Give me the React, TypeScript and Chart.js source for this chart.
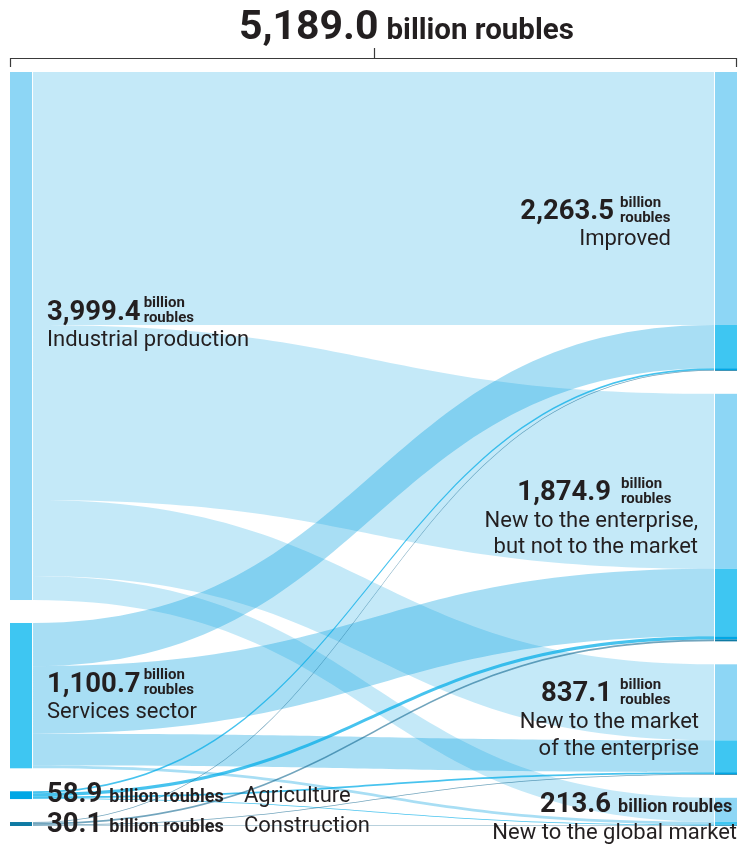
import React, { useEffect, useRef } from "react";
import { Chart, registerables } from "chart.js";

Chart.register(...registerables);

// ---------- data ----------
const grandTotal = 5189.0;
const sources = ["Industrial production", "Services sector", "Agriculture", "Construction"];
const sourceTotals = [3999.4, 1100.7, 58.9, 30.1];
const targets = ["Improved", "New to the enterprise, but not to the market", "New to the market of the enterprise", "New to the global market"];
const targetTotals = [2263.5, 1874.9, 837.1, 213.6];
// flows from each source to targets (Improved, New to enterprise, New to market, New to global market)
const fromIndustrial = [1916.0, 1325.6, 576.0, 181.8];
const fromServices = [327.5, 511.3, 241.1, 20.8];
const fromAgriculture = [14.0, 24.0, 14.0, 6.9];
const fromConstruction = [6.0, 14.0, 6.0, 4.1];
const flowRows = [fromIndustrial, fromServices, fromAgriculture, fromConstruction];

// ---------- style ----------
const GAP = 174; // gap between nodes, in value units
const NODE_W = 0.0303; // node width in x-scale units
const nodeColors = ["#8dd6f5", "#3ec6f2", "#00a7e5", "#0f7aa3"];
const flowColors = [
  "rgba(0,158,224,0.23)",
  "rgba(0,158,224,0.34)",
  "rgba(0,172,232,0.72)",
  "rgba(20,105,145,0.6)",
];
const TEXT = "#231f20";
const FONT = "Roboto, 'Noto Sans', 'DejaVu Sans', sans-serif";
const f = (w: string | number, s: number) => `${w} ${s}px ${FONT}`;
const REG = 22;

const fmt = (v: number) =>
  v.toLocaleString("en-US", { minimumFractionDigits: 1, maximumFractionDigits: 1 });

const yMax = sourceTotals.reduce((a, b) => a + b, 0) + GAP * (sourceTotals.length - 1);

function drawText(ctx: CanvasRenderingContext2D, txt: string, x: number, y: number, font: string, align: CanvasTextAlign = "left") {
  ctx.font = font;
  ctx.textAlign = align;
  ctx.textBaseline = "alphabetic";
  ctx.fillStyle = TEXT;
  ctx.fillText(txt, x, y);
  return ctx.measureText(txt).width;
}

// number + stacked "billion / roubles"
function valueBlockLeft(ctx: CanvasRenderingContext2D, v: number, x: number, base: number) {
  const w = drawText(ctx, fmt(v), x, base, f(700, 27.5));
  drawText(ctx, "billion", x + w + 3, base - 13, f(700, 15));
  drawText(ctx, "roubles", x + w + 3, base + 2, f(700, 15));
}
function valueBlockRight(ctx: CanvasRenderingContext2D, v: number, numRight: number, supX: number, base: number) {
  drawText(ctx, fmt(v), numRight, base, f(700, 27.5), "right");
  drawText(ctx, "billion", supX, base - 12, f(700, 15));
  drawText(ctx, "roubles", supX, base + 3, f(700, 15));
}
function valueInline(ctx: CanvasRenderingContext2D, v: number, x: number, base: number, align: "left" | "right") {
  if (align === "left") {
    const w = drawText(ctx, fmt(v), x, base, f(700, 27.5));
    drawText(ctx, "billion roubles", x + w + 7, base, f(700, 18));
  } else {
    drawText(ctx, fmt(v), x, base, f(700, 27.5), "right");
    drawText(ctx, "billion roubles", x + 7, base, f(700, 18));
  }
}

const sankeyPlugin = {
  id: "sankeyDraw",
  afterDatasetsDraw(chart: any) {
    const { ctx } = chart;
    const xs = chart.scales.x;
    const ys = chart.scales.y;
    const py = (v: number) => ys.getPixelForValue(v);
    const xL = xs.getPixelForValue(0);
    const xLn = xs.getPixelForValue(NODE_W);
    const xR = xs.getPixelForValue(1 - NODE_W);
    const xRn = xs.getPixelForValue(1);

    const srcTop: number[] = [];
    let acc = 0;
    sourceTotals.forEach((v) => { srcTop.push(acc); acc += v + GAP; });
    const tgtTop: number[] = [];
    acc = 0;
    targetTotals.forEach((v) => { tgtTop.push(acc); acc += v + GAP; });

    const sOff = [...srcTop];
    const tOff = [...tgtTop];
    const segs: { s: number; t: number; y0: number; y1: number; v: number }[] = [];
    flowRows.forEach((row, s) =>
      row.forEach((v, t) => {
        segs.push({ s, t, y0: sOff[s], y1: tOff[t], v });
        sOff[s] += v;
        tOff[t] += v;
      })
    );

    ctx.save();
    // flows
    const fx0 = xLn + 1;
    const fx1 = xR - 1;
    const xm = (fx0 + fx1) / 2;
    segs.forEach((g) => {
      const a0 = py(g.y0), b0 = py(g.y0 + g.v);
      const a1 = py(g.y1), b1 = py(g.y1 + g.v);
      ctx.beginPath();
      ctx.moveTo(fx0, a0);
      ctx.bezierCurveTo(xm, a0, xm, a1, fx1, a1);
      ctx.lineTo(fx1, b1);
      ctx.bezierCurveTo(xm, b1, xm, b0, fx0, b0);
      ctx.closePath();
      ctx.fillStyle = flowColors[g.s];
      ctx.fill();
    });
    // left nodes
    sourceTotals.forEach((v, i) => {
      ctx.fillStyle = nodeColors[i];
      ctx.fillRect(xL, py(srcTop[i]), xLn - xL, py(srcTop[i] + v) - py(srcTop[i]));
    });
    // right nodes, segmented by source
    segs.forEach((g) => {
      ctx.fillStyle = nodeColors[g.s];
      ctx.fillRect(xR, py(g.y1), xRn - xR, py(g.y1 + g.v) - py(g.y1));
    });
    ctx.restore();
  },
  afterDraw(chart: any) {
    const { ctx } = chart;
    const xs = chart.scales.x;
    const xL = xs.getPixelForValue(0);
    const xRn = xs.getPixelForValue(1);
    const cx = (xL + xRn) / 2;
    ctx.save();
    // title
    drawText(ctx, fmt(grandTotal), cx + 5, 39, f(700, 41), "right");
    drawText(ctx, "billion roubles", cx + 13, 39, f(700, 29.5));
    // bracket
    ctx.strokeStyle = "#3a3a3a";
    ctx.lineWidth = 1.2;
    ctx.beginPath();
    ctx.moveTo(xL + 0.5, 67);
    ctx.lineTo(xL + 0.5, 58.5);
    ctx.lineTo(xRn - 0.5, 58.5);
    ctx.lineTo(xRn - 0.5, 67);
    ctx.moveTo(Math.round(cx) + 0.5, 58.5);
    ctx.lineTo(Math.round(cx) + 0.5, 48);
    ctx.stroke();

    // left labels
    valueBlockLeft(ctx, sourceTotals[0], 47, 320);
    drawText(ctx, sources[0], 47, 346, f(400, REG));
    valueBlockLeft(ctx, sourceTotals[1], 47, 692);
    drawText(ctx, sources[1], 47, 718, f(400, REG));
    valueInline(ctx, sourceTotals[2], 47, 802, "left");
    drawText(ctx, sources[2], 244, 802, f(400, REG));
    valueInline(ctx, sourceTotals[3], 47, 832, "left");
    drawText(ctx, sources[3], 244, 832, f(400, REG));

    // right labels
    valueBlockRight(ctx, targetTotals[0], 614, 620, 219);
    drawText(ctx, targets[0], 671, 245, f(400, REG), "right");
    valueBlockRight(ctx, targetTotals[1], 611, 621, 500);
    drawText(ctx, "New to the enterprise,", 698, 527, f(400, REG), "right");
    drawText(ctx, "but not to the market", 698, 553, f(400, REG), "right");
    valueBlockRight(ctx, targetTotals[2], 612, 620, 701);
    drawText(ctx, "New to the market", 699, 728, f(400, REG), "right");
    drawText(ctx, "of the enterprise", 699, 755, f(400, REG), "right");
    valueInline(ctx, targetTotals[3], 611, 812, "right");
    drawText(ctx, targets[3], 737, 839, f(400, REG), "right");
    ctx.restore();
  },
};

export default function App() {
  const ref = useRef<HTMLCanvasElement>(null);
  useEffect(() => {
    document.body.style.margin = "0";
    if (!ref.current) return;
    const chart = new Chart(ref.current, {
      type: "scatter",
      data: { datasets: [{ data: [], pointRadius: 0 }] },
      options: {
        animation: false,
        responsive: false,
        devicePixelRatio: 1,
        layout: { padding: { left: 10, right: 2, top: 72, bottom: 21 } },
        scales: {
          x: { type: "linear", min: 0, max: 1, display: false },
          y: { type: "linear", min: 0, max: yMax, reverse: true, display: false },
        },
        plugins: { legend: { display: false }, tooltip: { enabled: false }, title: { display: false } },
      },
      plugins: [sankeyPlugin],
    });
    return () => chart.destroy();
  }, []);
  return (
    <div style={{ width: 739, height: 847 }}>
      <canvas ref={ref} width={739} height={847} style={{ display: "block" }} />
    </div>
  );
}
